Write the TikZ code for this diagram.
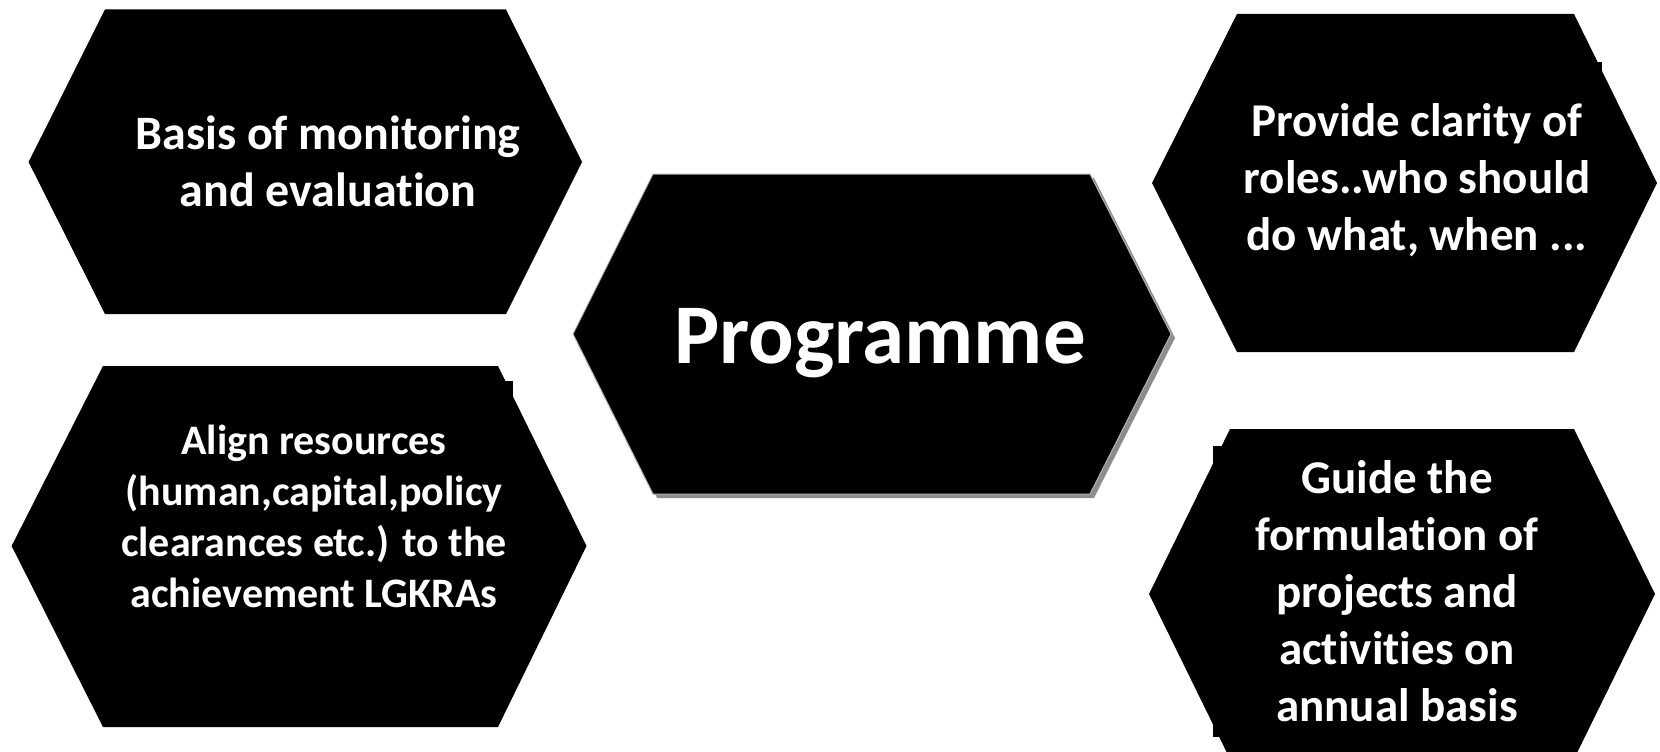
\documentclass[tikz,border=0pt]{standalone}
\usepackage{fontspec}
\setmainfont{Carlito}[Ligatures=NoCommon]
\definecolor{shadowgray}{HTML}{8C8C8C}
\definecolor{edgegray}{HTML}{B4B4B4}
\begin{document}
\begin{tikzpicture}[x=1pt,y=-1pt]
\tikzset{
  hexfill/.style={fill=black},
  lbl/.style={text=white, font=\bfseries\fontsize{47}{57}\selectfont, align=center, inner sep=0pt},
  lbltl/.style={lbl, font=\bfseries\fontsize{48}{57}\selectfont},
  lblsmall/.style={lbl, font=\bfseries\fontsize{42}{51}\selectfont},
  lblbig/.style={lbl, font=\bfseries\fontsize{85}{100}\selectfont}
}
\useasboundingbox (0,0) rectangle (1660,752);
\fill[white] (0,0) rectangle (1660,752);

% top-left hexagon
\fill[hexfill] (105,9.5) -- (506,9.5) -- (582,162) -- (506,314) -- (105,314) -- (28.6,162) -- cycle;

% bottom-left hexagon with small text-box corner
\fill[hexfill] (110,381) rectangle (513,600);
\fill[hexfill] (103,366) -- (498,366) -- (586.5,546) -- (498,727) -- (103,727) -- (11.6,546) -- cycle;

% top-right hexagon with small text-box corner
\fill[hexfill] (1250,62) rectangle (1602,250);
\fill[hexfill] (1237,14) -- (1574,14) -- (1657,183) -- (1574,352) -- (1237,352) -- (1152,183) -- cycle;

% bottom-right hexagon with text-box behind
\fill[hexfill] (1213,446) rectangle (1582,737);
\fill[hexfill] (1230,429) -- (1574,429) -- (1655,594) -- (1574,759) -- (1230,759) -- (1149,594) -- cycle;

% central hexagon with shadow
\fill[shadowgray] (657,178) -- (1094,178) -- (1175,338) -- (1094,498) -- (657,498) -- (577,338) -- cycle;
\filldraw[fill=black, draw=edgegray, line width=1pt] (653,174) -- (1090,174) -- (1171,334) -- (1090,494) -- (653,494) -- (573,334) -- cycle;

\node[lblbig] (prog) at (880,343) {Programme};
\node[lbltl] (monitor) at (328,161) {Basis of monitoring\\and evaluation};
\node[lbl] (roles) at (1417,180) {Provide clarity of\\roles..who should\\do what, when ...};
\node[lblsmall] (align) at (314,516) {Align resources\\(human,capital,policy\\clearances etc.) to the\\achievement LGKRAs};
\node[lbl] (guide) at (1397,591) {Guide the\\formulation of\\projects and\\activities on\\annual basis};
\end{tikzpicture}
\end{document}
